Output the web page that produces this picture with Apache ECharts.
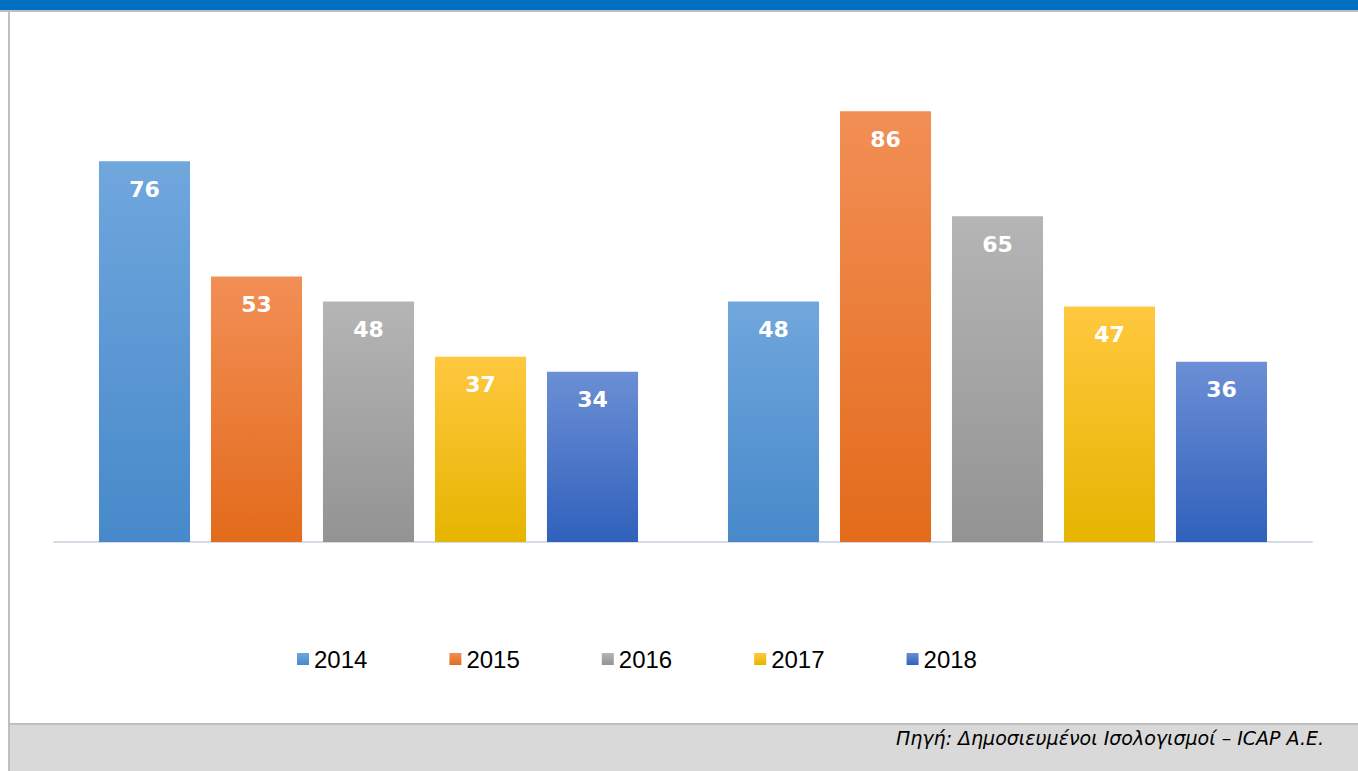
<!DOCTYPE html>
<html>
<head>
<meta charset="utf-8">
<script src="https://cdn.jsdelivr.net/npm/echarts@6/dist/echarts.min.js"></script>
<style>
  html, body { margin: 0; padding: 0; background: #fff; }
  #chart { width: 1358px; height: 771px; }
</style>
</head>
<body>
<div id="chart"></div>
<script>
const categories = ["Ομάδα 1", "Ομάδα 2"];
const years = ["2014", "2015", "2016", "2017", "2018"];
const values2014 = [76, 48];
const values2015 = [53, 86];
const values2016 = [48, 65];
const values2017 = [37, 47];
const values2018 = [34, 36];
const sourceNote = "Πηγή: Δημοσιευμένοι Ισολογισμοί – ICAP A.E.";

const seriesValues = [values2014, values2015, values2016, values2017, values2018];
// top / bottom colours of each bar's gradient, legend uses the middle one
const palette = [
  ["#70A7DD", "#5B9BD5", "#4789CA"],
  ["#F28F56", "#ED7D31", "#E36B1B"],
  ["#B5B5B5", "#A5A5A5", "#939393"],
  ["#FFC83F", "#FFC000", "#E5B500"],
  ["#6C8FD5", "#4472C4", "#3061BC"],
];

const chart = echarts.init(document.getElementById("chart"), undefined, { renderer: "svg" });

const series = years.map((year, i) => ({
  name: year,
  type: "bar",
  data: seriesValues[i],
  barGap: "23%",
  barCategoryGap: "14.3%",
  itemStyle: {
    color: new echarts.graphic.LinearGradient(0, 0, 0, 1, [
      { offset: 0, color: palette[i][0] },
      { offset: 1, color: palette[i][2] },
    ]),
  },
  label: {
    show: true,
    position: "insideTop",
    distance: 17,
    color: "#fff",
    fontFamily: "DejaVu Sans",
    fontWeight: "bold",
    fontSize: 22,
  },
}));

chart.setOption({
  animation: false,
  color: palette.map((p) => p[1]),
  grid: { left: 54, right: 46, top: 41, bottom: 229 },
  legend: {
    data: years,
    left: 292,
    top: 642,
    itemWidth: 12,
    itemHeight: 12,
    itemGap: 82,
    icon: "rect",
    textStyle: { fontFamily: "Liberation Sans", fontSize: 24, color: "#000" },
  },
  xAxis: {
    type: "category",
    data: categories,
    axisLine: { show: true, lineStyle: { color: "#D6DCE5", width: 2 } },
    axisTick: { show: false },
    axisLabel: { show: false },
  },
  yAxis: {
    type: "value",
    min: 0,
    max: 100,
    show: false,
    splitLine: { show: false },
  },
  graphic: [
    { type: "rect", shape: { x: 0, y: 0, width: 1358, height: 10 }, style: { fill: "#0070C0" } },
    { type: "rect", shape: { x: 0, y: 10, width: 1358, height: 2 }, style: { fill: "#BFBFBF" } },
    { type: "rect", shape: { x: 8, y: 10, width: 2, height: 761 }, style: { fill: "#BFBFBF" } },
    { type: "rect", shape: { x: 10, y: 723, width: 1348, height: 2 }, style: { fill: "#BFBFBF" } },
    { type: "rect", shape: { x: 10, y: 725, width: 1348, height: 46 }, style: { fill: "#D9D9D9" } },
    {
      type: "text",
      right: 34,
      top: 728,
      style: {
        text: sourceNote,
        fontFamily: "DejaVu Sans",
        fontStyle: "italic",
        fontSize: 19,
        fill: "#000",
      },
    },
  ],
  series,
});
</script>
</body>
</html>
